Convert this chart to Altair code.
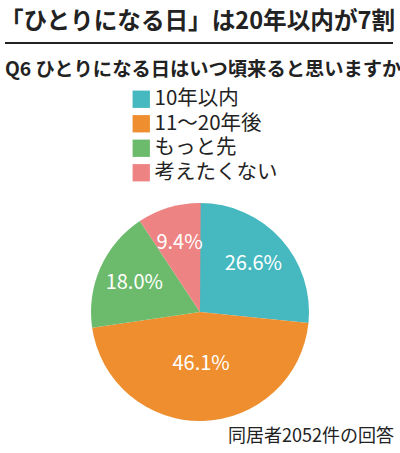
import altair as alt
import pandas as pd
import math

categories = ["10年以内", "11～20年後", "もっと先", "考えたくない"]
values = [26.6, 46.1, 18.0, 9.4]
colors = ["#45B9BF", "#EE8E2F", "#6CBB6C", "#EE8383"]
title_text = "「ひとりになる日」は20年以内が7割"
subtitle_text = "Q6 ひとりになる日はいつ頃来ると思いますか"
note_text = "同居者2052件の回答"

df = pd.DataFrame({
    "cat": categories,
    "val": values,
    "order": list(range(len(categories))),
    "label": [f"{v:.1f}%" for v in values],
})

FONT = "Noto Sans CJK JP"
W, H = 400, 453
CX, CY, R = 200, 312, 109

pie = alt.Chart(df).mark_arc(outerRadius=R).encode(
    theta=alt.Theta("val:Q", stack=True),
    order=alt.Order("order:Q"),
    x=alt.value(CX), y=alt.value(CY),
    color=alt.Color(
        "cat:N",
        scale=alt.Scale(domain=categories, range=colors),
        sort=categories,
        legend=alt.Legend(
            title=None, orient="none", legendX=131, legendY=89,
            symbolType="square", symbolSize=300, symbolStrokeWidth=0,
            symbolOpacity=1,
            labelFont=FONT, labelFontSize=20.5, labelColor="#222222",
            rowPadding=3.5, labelOffset=3,
        ),
    ),
)

lab_base = alt.Chart(df).transform_window(
    cum="sum(val)", sort=[alt.SortField("order")], frame=[None, 0]
).transform_calculate(
    mid="datum.cum - datum.val / 2"
)

def label_layer(radius, cond):
    return lab_base.transform_filter(cond).mark_text(
        radius=radius, font=FONT, fontSize=20, color="white",
        align="center", baseline="middle"
    ).encode(
        theta=alt.Theta("mid:Q", stack=None,
                        scale=alt.Scale(domain=[0, 100], range=[0, 2 * math.pi])),
        x=alt.value(CX), y=alt.value(CY), text="label:N",
    )

labels_small = label_layer(72, alt.datum.val < 40)
labels_big = label_layer(52, alt.datum.val >= 40)

texts = pd.DataFrame({"t": [title_text]})
title = alt.Chart(texts).mark_text(
    font=FONT, fontSize=23.6, fontWeight="bold", color="#222222", align="right", baseline="middle"
).encode(x=alt.value(395), y=alt.value(22), text=alt.value(title_text))
rule = alt.Chart(texts).mark_rule(color="#222222", strokeWidth=2).encode(
    x=alt.value(5), x2=alt.value(393), y=alt.value(43)
)
subtitle = alt.Chart(texts).mark_text(
    font=FONT, fontSize=19.3, fontWeight="bold", color="#222222", align="left", baseline="middle"
).encode(x=alt.value(5), y=alt.value(70), text=alt.value(subtitle_text))
note = alt.Chart(texts).mark_text(
    font=FONT, fontSize=18, color="#222222", align="right", baseline="middle"
).encode(x=alt.value(394), y=alt.value(437), text=alt.value(note_text))

chart = alt.layer(pie, labels_small, labels_big, title, rule, subtitle, note).properties(
    width=W, height=H, padding=0, autosize=alt.AutoSizeParams(type="none"),
    background="white",
).configure_view(stroke=None)

chart.save("out.html", embed_options={"renderer": "svg", "actions": False})
